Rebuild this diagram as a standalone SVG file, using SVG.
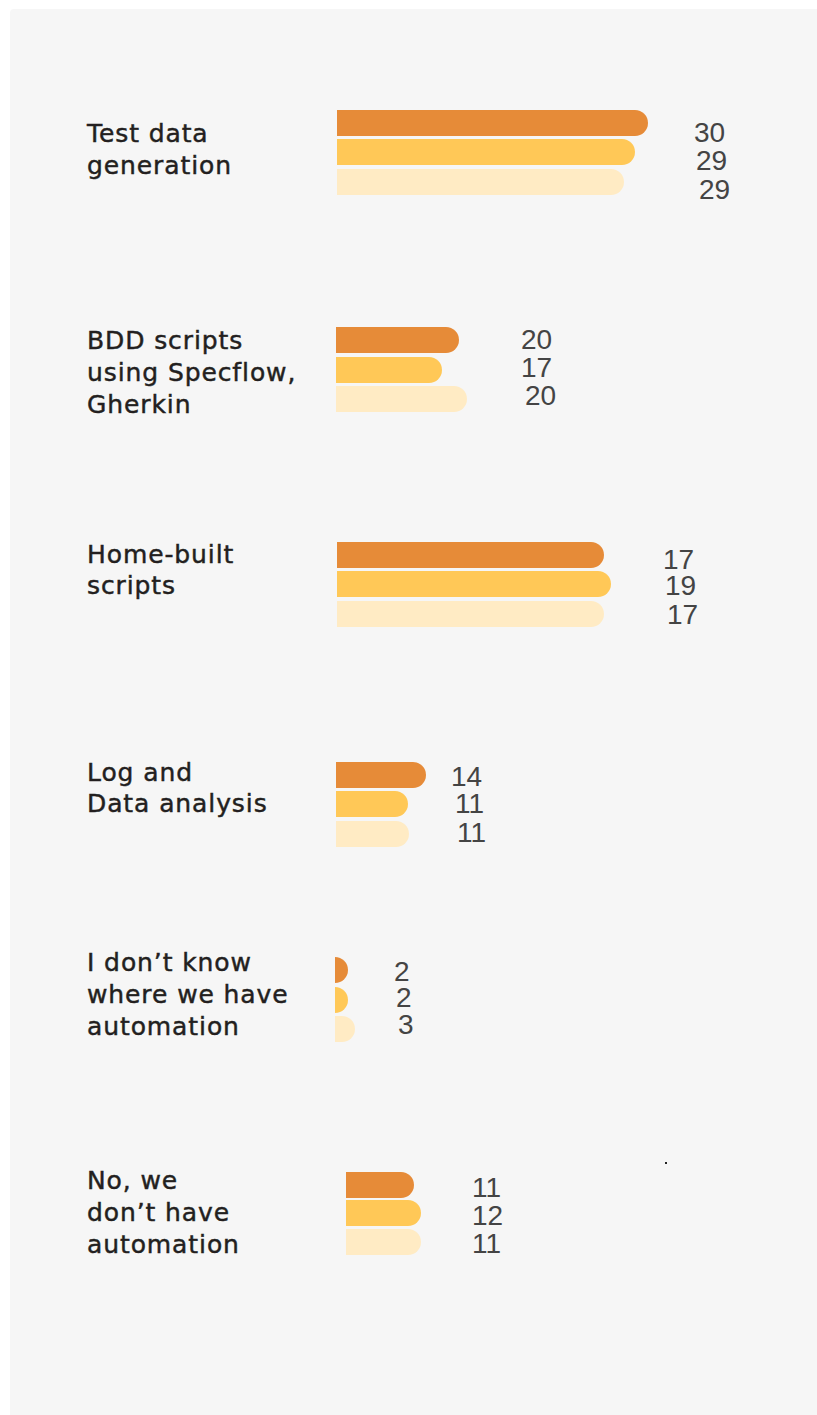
<svg xmlns="http://www.w3.org/2000/svg" width="817" height="1415" viewBox="0 0 817 1415">
<style>
.lbl{font-family:"DejaVu Sans","Liberation Sans",sans-serif;font-size:25px;letter-spacing:0.9px;fill:#231f20;stroke:#231f20;stroke-width:0.45px;}
.num{font-family:"Liberation Sans",Arial,sans-serif;font-size:28px;fill:#444444;}
.b1{fill:#E68B38;}
.b2{fill:#FFC857;}
.b3{fill:#FFEBC4;}
</style>
<rect x="0" y="0" width="817" height="1415" fill="#ffffff"/>
<rect x="10" y="9" width="830" height="1420" rx="4" fill="#F6F6F6"/>

<g id="test-data-generation">
<text class="lbl" x="87" y="142">Test data</text>
<text class="lbl" x="87" y="174">generation</text>
<path class="b1" d="M337 110H635A13 13 0 0 1 635 136H337Z"/>
<path class="b2" d="M337 139H622A13 13 0 0 1 622 165H337Z"/>
<path class="b3" d="M337 169H611A13 13 0 0 1 611 195H337Z"/>
<text class="num" x="694" y="142">30</text>
<text class="num" x="696" y="170">29</text>
<text class="num" x="699" y="199">29</text>
</g>

<g id="bdd-scripts">
<text class="lbl" x="87" y="349">BDD scripts</text>
<text class="lbl" x="87" y="381">using Specflow,</text>
<text class="lbl" x="87" y="413">Gherkin</text>
<path class="b1" d="M336 327H446A13 13 0 0 1 446 353H336Z"/>
<path class="b2" d="M336 357H429A13 13 0 0 1 429 383H336Z"/>
<path class="b3" d="M336 386H454A13 13 0 0 1 454 412H336Z"/>
<text class="num" x="521" y="349">20</text>
<text class="num" x="521" y="377">17</text>
<text class="num" x="525" y="405">20</text>
</g>

<g id="home-built-scripts">
<text class="lbl" x="87" y="563">Home-built</text>
<text class="lbl" x="87" y="594">scripts</text>
<path class="b1" d="M337 542H591A13 13 0 0 1 591 568H337Z"/>
<path class="b2" d="M337 571H598A13 13 0 0 1 598 597H337Z"/>
<path class="b3" d="M337 601H591A13 13 0 0 1 591 627H337Z"/>
<text class="num" x="663" y="569">17</text>
<text class="num" x="665" y="595">19</text>
<text class="num" x="667" y="624">17</text>
</g>

<g id="log-data-analysis">
<text class="lbl" x="87" y="781">Log and</text>
<text class="lbl" x="87" y="812">Data analysis</text>
<path class="b1" d="M336 762H413A13 13 0 0 1 413 788H336Z"/>
<path class="b2" d="M336 791H395A13 13 0 0 1 395 817H336Z"/>
<path class="b3" d="M336 821H396A13 13 0 0 1 396 847H336Z"/>
<text class="num" x="451" y="786">14</text>
<text class="num" x="455" y="813">11</text>
<text class="num" x="457" y="842">11</text>
</g>

<g id="dont-know">
<text class="lbl" x="87" y="971">I don’t know</text>
<text class="lbl" x="87" y="1003">where we have</text>
<text class="lbl" x="87" y="1035">automation</text>
<path class="b1" d="M335 957A13 13 0 0 1 335 983Z"/>
<path class="b2" d="M335 987A13 13 0 0 1 335 1013Z"/>
<path class="b3" d="M335 1016H342A13 13 0 0 1 342 1042H335Z"/>
<text class="num" x="394" y="981">2</text>
<text class="num" x="396" y="1007">2</text>
<text class="num" x="398" y="1034">3</text>
</g>

<g id="no-automation">
<text class="lbl" x="87" y="1189">No, we</text>
<text class="lbl" x="87" y="1221">don’t have</text>
<text class="lbl" x="87" y="1253">automation</text>
<path class="b1" d="M346 1172H401A13 13 0 0 1 401 1198H346Z"/>
<path class="b2" d="M346 1200H408A13 13 0 0 1 408 1226H346Z"/>
<path class="b3" d="M346 1229H408A13 13 0 0 1 408 1255H346Z"/>
<text class="num" x="472" y="1197">11</text>
<text class="num" x="472" y="1225">12</text>
<text class="num" x="472" y="1253">11</text>
</g>

<g id="connectors"></g>
<rect x="665" y="1162" width="2" height="2" fill="#222222"/>
</svg>
